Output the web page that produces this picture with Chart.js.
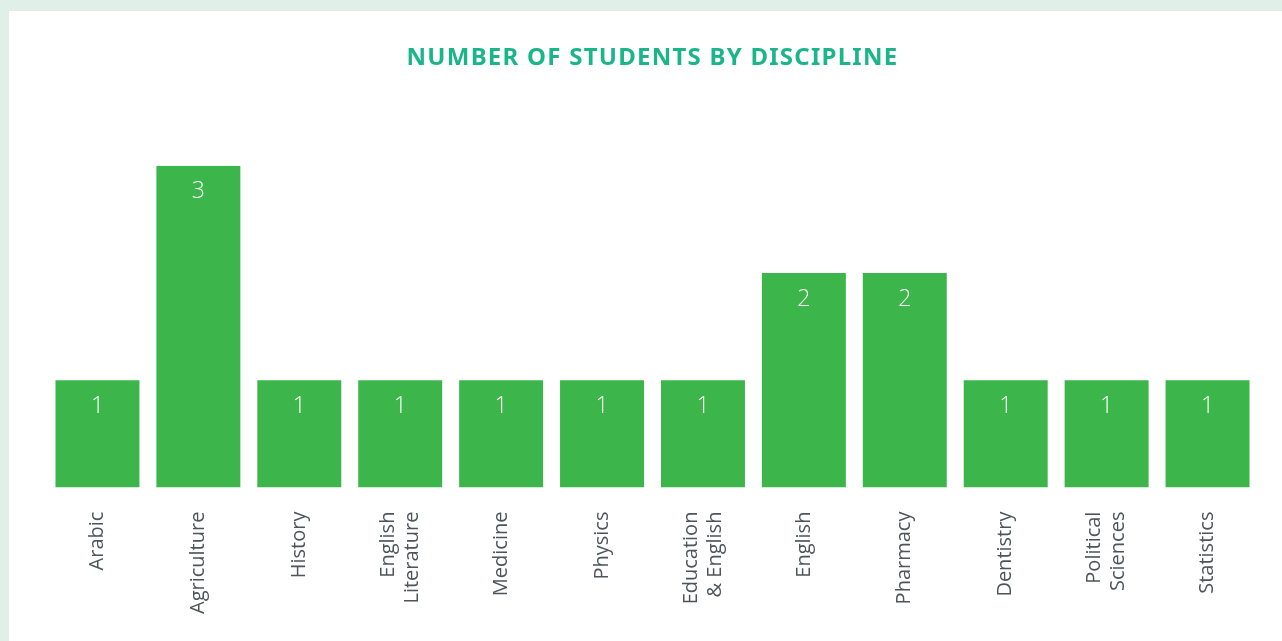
<!DOCTYPE html>
<html>
<head>
<meta charset="utf-8">
<script src="https://cdn.jsdelivr.net/npm/chart.js@4"></script>
<style>
  html, body { margin: 0; padding: 0; }
  body { background: #e0f0e8; width: 1282px; height: 641px; overflow: hidden; position: relative; }
  #card { position: absolute; left: 9px; top: 11px; width: 1273px; height: 630px; background: #fff; }
</style>
</head>
<body>
<div id="card"><canvas id="studentsChart" width="1273" height="630"></canvas></div>
<script>
const disciplines = ['Arabic', 'Agriculture', 'History', ['English', 'Literature'], 'Medicine', 'Physics',
    ['Education', '& English'], 'English', 'Pharmacy', 'Dentistry', ['Political', 'Sciences'], 'Statistics'];
const studentCounts = [1, 3, 1, 1, 1, 1, 1, 2, 2, 1, 1, 1];

// draws the number inside the top of each bar
const valueLabels = {
    id: 'valueLabels',
    afterDatasetsDraw(chart) {
        const ctx = chart.ctx;
        const meta = chart.getDatasetMeta(0);
        ctx.save();
        ctx.fillStyle = '#ffffff';
        ctx.font = '300 23px "Open Sans"';
        ctx.textAlign = 'center';
        ctx.textBaseline = 'middle';
        meta.data.forEach((bar, i) => {
            ctx.fillText(String(studentCounts[i]), bar.x, bar.y + 26);
        });
        ctx.restore();
    }
};

// centre two-line rotated labels on their bar instead of hanging them to the right
const centerMultiline = {
    id: 'centerMultiline',
    beforeDraw(chart) {
        chart.scales.x.getLabelItems().forEach(item => {
            if (Array.isArray(item.label) && !item._centred) {
                const lh = item.font.lineHeight;
                item.textOffset -= (item.label.length - 1) * lh / 2;
                item._centred = true;
            }
        });
    }
};

document.addEventListener('DOMContentLoaded', function() {
    const ctx = document.getElementById('studentsChart').getContext('2d');
    const chart = new Chart(ctx, {
        type: 'bar',
        data: {
            labels: disciplines,
            datasets: [{
                label: 'Students',
                data: studentCounts,
                backgroundColor: '#3cb54a',
                borderWidth: 0,
                categoryPercentage: 0.832,
                barPercentage: 1
            }]
        },
        options: {
            responsive: false,
            animation: false,
            layout: { padding: { left: 38, right: 24, top: 0, bottom: 3 } },
            plugins: {
                legend: { display: false },
                tooltip: { enabled: false },
                title: {
                    display: true,
                    text: 'NUMBER OF STUDENTS BY DISCIPLINE',
                    color: '#1bb58a',
                    font: { family: '"Noto Sans"', size: 24, weight: 'bold' },
                    padding: { top: 33, bottom: 93 }
                }
            },
            scales: {
                x: {
                    grid: { display: false, drawTicks: false },
                    border: { display: false },
                    ticks: {
                        color: '#4d5559',
                        font: { family: '"Open Sans"', size: 20, lineHeight: 1.2 },
                        minRotation: 90,
                        maxRotation: 90,
                        padding: 24,
                        autoSkip: false
                    }
                },
                y: {
                    display: false,
                    min: 0,
                    max: 3
                }
            }
        },
        plugins: [valueLabels, centerMultiline]
    });

    // title is letter-spaced in the original
    const title = chart.titleBlock;
    const drawTitle = title.draw;
    title.draw = function() {
        chart.ctx.letterSpacing = '1.25px';
        drawTitle.apply(this, arguments);
        chart.ctx.letterSpacing = '0px';
    };
    chart.draw();
});
</script>
</body>
</html>
